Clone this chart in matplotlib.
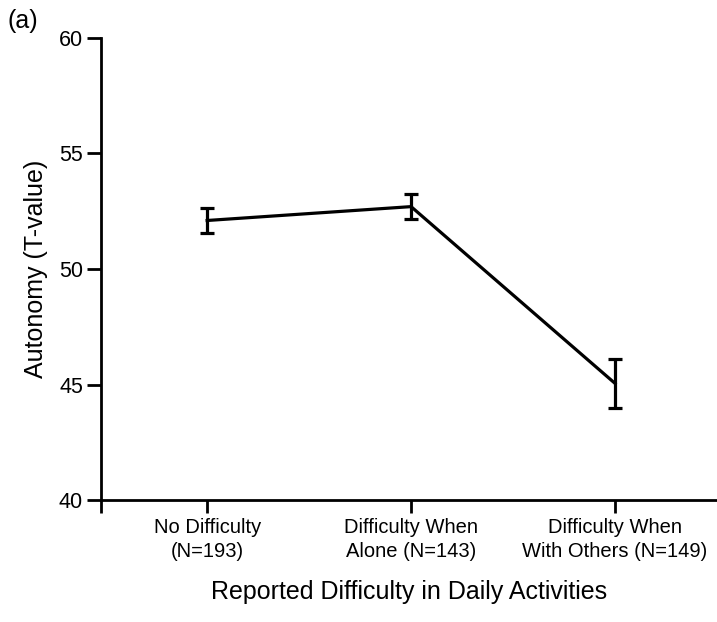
import matplotlib
matplotlib.use('Agg')
import matplotlib.pyplot as plt

# Values
categories = ['No Difficulty\n(N=193)',
              'Difficulty When\nAlone (N=143)',
              'Difficulty When\nWith Others (N=149)']
means = [52.1, 52.7, 45.05]
errors = [0.55, 0.55, 1.05]
y_ticks = [40, 45, 50, 55, 60]

plt.rcParams['font.family'] = ['Liberation Sans', 'DejaVu Sans']

fig = plt.figure(figsize=(7.17, 6.22), dpi=100)
ax = fig.add_axes([0.141, 0.196, 0.859, 0.743])

x = list(range(len(categories)))
ax.errorbar(x, means, yerr=errors, color='black', linewidth=2.3,
            elinewidth=2.3, capsize=4.7, capthick=2.3)

ax.set_xlim(-0.52, 2.5)
ax.set_ylim(40, 60)
ax.set_yticks(y_ticks)
ax.set_xticks(x)
ax.set_xticklabels(categories, fontsize=14.5, linespacing=1.3)
ax.set_yticklabels([str(v) for v in y_ticks], fontsize=15.5)

# small tick at left end of the x axis, like in the original
ax.set_xticks([-0.52], minor=True)
ax.tick_params(axis='x', which='both', direction='out', length=9, width=2.0, pad=4)
ax.tick_params(axis='y', direction='out', length=10, width=2.0, pad=3)

for side in ['top', 'right']:
    ax.spines[side].set_visible(False)
for side in ['left', 'bottom']:
    ax.spines[side].set_linewidth(2.0)

ax.set_ylabel('Autonomy (T-value)', fontsize=18, labelpad=8)
ax.set_xlabel('Reported Difficulty in Daily Activities', fontsize=18, labelpad=14)

fig.text(0.010, 0.955, '(a)', fontsize=18)

fig.savefig('out.png', dpi=100)
